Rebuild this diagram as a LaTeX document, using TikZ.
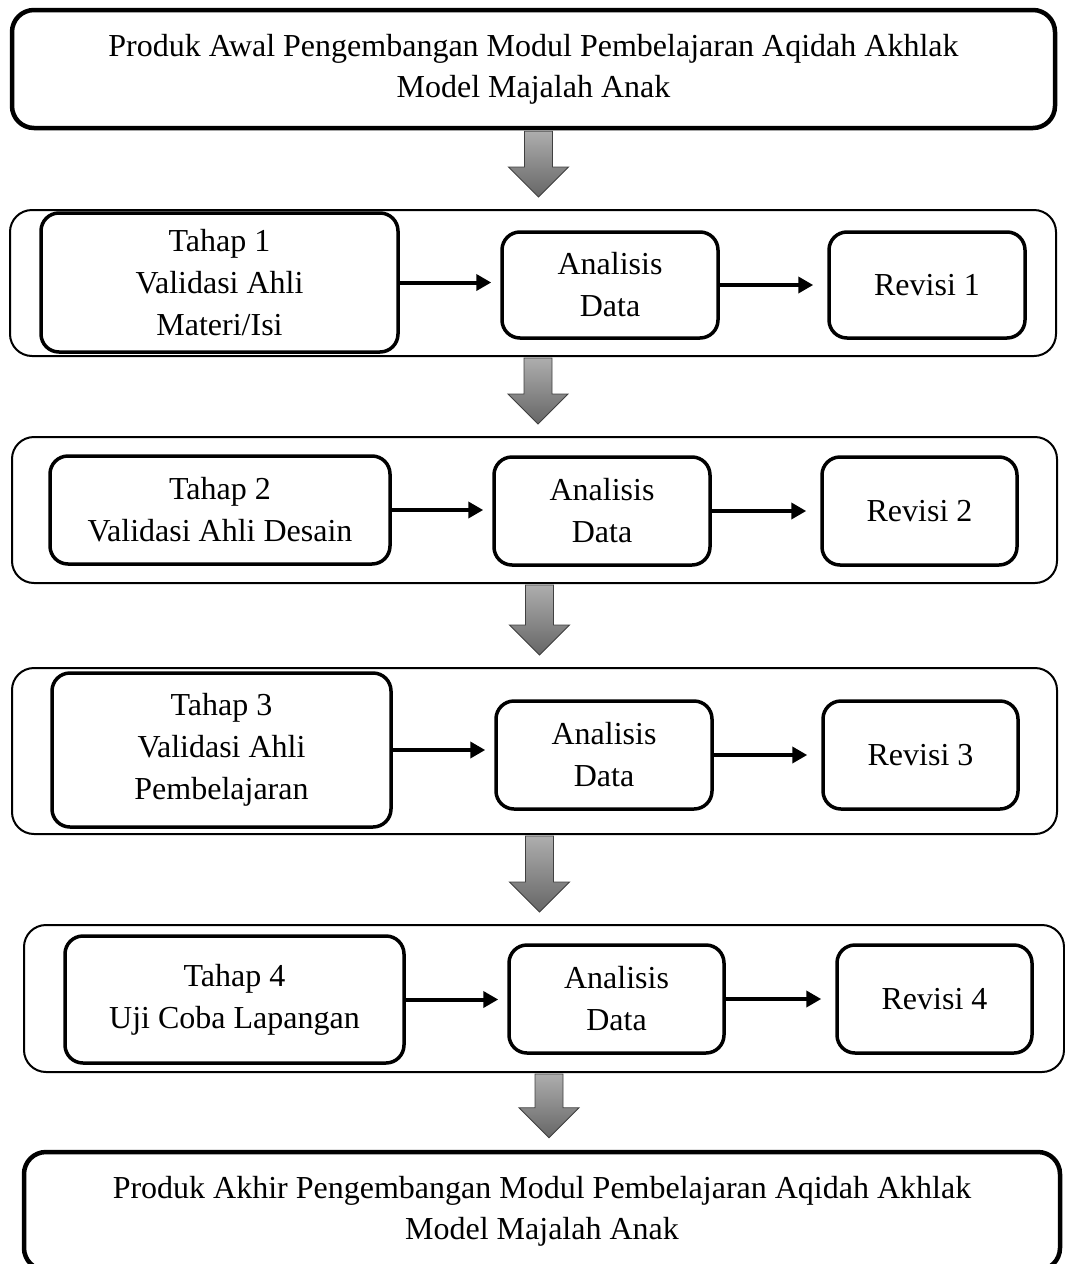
\documentclass[tikz,border=0pt]{standalone}
\usepackage{fontspec}
\setmainfont{Liberation Serif}
\usepackage{tikz}
\usetikzlibrary{arrows.meta,calc}
\newcommand{\bigarrow}[2]{%
  \path[blk] let \p1=(#1.south), \p2=(#2.north) in
    (\x1-9pt,\y1-1pt) -- (\x1+19pt,\y1-1pt) -- (\x1+19pt,\y2+42pt) -- (\x1+35pt,\y2+42pt)
    -- (\x1+5pt,\y2+12pt) -- (\x1-25pt,\y2+42pt) -- (\x1-9pt,\y2+42pt) -- cycle;}

\begin{document}
\begin{tikzpicture}[
  x=1pt,y=-1pt,
  every node/.style={font=\fontsize{32}{41}\selectfont},
  prod/.style={draw,line width=4.5pt,rounded corners=22pt,align=center,inner sep=0pt},
  grp/.style={draw,line width=2pt,rounded corners=22pt,inner sep=0pt},
  box/.style={draw,line width=3.5pt,rounded corners=18pt,align=center,inner sep=0pt,
    font=\fontsize{32}{42}\selectfont},
  arr/.style={-{Triangle[length=15pt,width=16pt]},line width=4pt},
  blk/.style={draw=black!75,line width=0.9pt,top color=black!32,bottom color=black!60}]
\useasboundingbox (0,0) rectangle (1065,1264);
% kotak luar
\node[grp,minimum width=1046,minimum height=146] (g1) at (533,283) {};
\node[grp,minimum width=1045,minimum height=146] (g2) at (534.5,510) {};
\node[grp,minimum width=1045,minimum height=166] (g3) at (534.5,751) {};
\node[grp,minimum width=1040,minimum height=147] (g4) at (544,998.5) {};
% produk
\node[prod,minimum width=1043,minimum height=118] (p0) at (533.5,69)
  {Produk Awal Pengembangan Modul Pembelajaran Aqidah Akhlak\\Model Majalah Anak};
\node[prod,minimum width=1036,minimum height=118] (p1) at (542,1211)
  {Produk Akhir Pengembangan Modul Pembelajaran Aqidah Akhlak\\Model Majalah Anak};
% tahap
\node[box,minimum width=357,minimum height=139] (t1) at (219.5,282.5) {Tahap 1\\Validasi Ahli\\Materi/Isi};
\node[box,minimum width=340,minimum height=108] (t2) at (220,510) {Tahap 2\\Validasi Ahli Desain};
\node[box,minimum width=339,minimum height=154] (t3) at (221.5,750) {Tahap 3\\Validasi Ahli\\Pembelajaran};
\node[box,minimum width=339,minimum height=127] (t4) at (234.5,999.5) {Tahap 4\\Uji Coba Lapangan};
% analisis
\node[box,minimum width=216,minimum height=106] (a1) at (610,285) {Analisis\\Data};
\node[box,minimum width=216,minimum height=108] (a2) at (602,511) {Analisis\\Data};
\node[box,minimum width=216,minimum height=108] (a3) at (604,755) {Analisis\\Data};
\node[box,minimum width=215,minimum height=108] (a4) at (616.5,999) {Analisis\\Data};
% revisi
\node[box,minimum width=196,minimum height=106] (r1) at (927,285) {Revisi 1};
\node[box,minimum width=195,minimum height=108] (r2) at (919.5,511) {Revisi 2};
\node[box,minimum width=195,minimum height=108] (r3) at (920.5,755) {Revisi 3};
\node[box,minimum width=195,minimum height=108] (r4) at (934.5,999) {Revisi 4};
% panah
\draw[arr,shorten >=9pt] (t1.east) -- (t1.east -| a1.west);
\draw[arr,shorten >=14pt] (a1.east) -- (r1.west);
\draw[arr,shorten >=9pt] (t2.east) -- (t2.east -| a2.west);
\draw[arr,shorten >=14pt] (a2.east) -- (r2.west);
\draw[arr,shorten >=9pt] (t3.east) -- (t3.east -| a3.west);
\draw[arr,shorten >=14pt] (a3.east) -- (r3.west);
\draw[arr,shorten >=9pt] (t4.east) -- (t4.east -| a4.west);
\draw[arr,shorten >=14pt] (a4.east) -- (r4.west);
\bigarrow{p0}{g1}
\bigarrow{g1}{g2}
\bigarrow{g2}{g3}
\bigarrow{g3}{g4}
\bigarrow{g4}{p1}
\end{tikzpicture}
\end{document}
